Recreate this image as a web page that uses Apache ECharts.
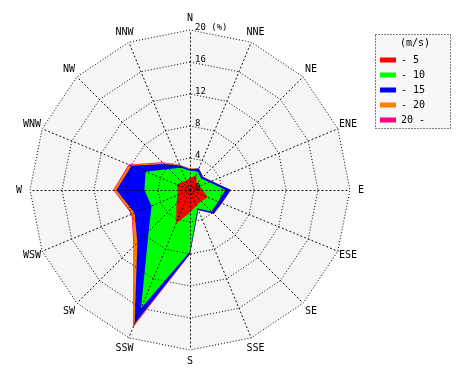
<!DOCTYPE html>
<html><head><meta charset="utf-8">
<script src="https://cdn.jsdelivr.net/npm/echarts@6/dist/echarts.min.js"></script>
<style>html,body{margin:0;padding:0;background:#fff}#c{width:470px;height:380px}</style>
</head><body><div id="c"></div>
<script>
// compass order, clockwise from north
const directions = ['N','NNE','NE','ENE','E','ESE','SE','SSE','S','SSW','SW','WSW','W','WNW','NW','NNW'];
const speedClasses = ['- 5','- 10','- 15','- 20','20 -'];
const classColors = ['#ff0000','#00ff00','#0000ff','#ff8000','#ff0080'];
// frequency (%) per direction for each wind-speed class
const freqTo5    = [1.5, 2.0, 1.2, 1.3, 1.6, 2.4, 2.0, 2.1, 2.8, 4.5, 2.4, 1.7, 1.5, 1.8, 1.4, 1.3];
const freqTo10   = [0.9, 0.5, 0.8, 1.3, 2.8, 1.4, 1.8, 0.4, 4.9, 11.5, 4.9, 3.5, 4.2, 4.2, 2.3, 1.7];
const freqTo15   = [0.2, 0.4, 0.3, 0.3, 0.7, 0.5, 0.4, 0.2, 0.3, 2.1, 2.0, 2.3, 3.5, 1.9, 0.9, 0.3];
const freqTo20   = [0.1, 0, 0, 0, 0, 0, 0, 0, 0, 0.4, 0.6, 0.3, 0.3, 0.3, 0.2, 0.1];
const freqOver20 = [0, 0, 0, 0, 0, 0, 0, 0, 0, 0.1, 0.1, 0.1, 0.1, 0.1, 0.1, 0];
const radialTicks = [0, 4, 8, 12, 16, 20];

const classFreqs = [freqTo5, freqTo10, freqTo15, freqTo20, freqOver20];
// radar lays indicators counter-clockwise: reorder to get clockwise compass
const order = [0].concat(directions.map((d, i) => i).slice(1).reverse());
// stacked (cumulative) values
const cumul = [];
classFreqs.forEach((arr, k) => {
  cumul.push(arr.map((v, i) => v + (k > 0 ? cumul[k - 1][i] : 0)));
});
const rMax = radialTicks[radialTicks.length - 1];
const mono = 'DejaVu Sans Mono';
const dot = [1, 2];
const spokeDot = [1, 3];

const indicatorsBg = order.map(i => ({ name: directions[i], min: 0, max: rMax }));
const indicatorsFg = order.map((i, k) => {
  const o = { name: directions[i], min: 0, max: rMax };
  if (k === 0) o.axisLabel = { show: true };
  return o;
});

const data = [];
for (let k = speedClasses.length - 1; k >= 0; k--) {
  data.push({
    name: speedClasses[k],
    value: order.map(i => +cumul[k][i].toFixed(2)),
    symbol: 'none',
    itemStyle: { color: classColors[k] },
    lineStyle: { opacity: 0, width: 0 },
    areaStyle: { color: classColors[k], opacity: 1 }
  });
}

const chart = echarts.init(document.getElementById('c'), null, { renderer: 'canvas' });
chart.setOption({
  animation: false,
  backgroundColor: '#fff',
  title: {
    text: '(m/s)', left: 400, top: 38, padding: 0,
    textStyle: { fontFamily: mono, fontSize: 10, fontWeight: 'normal', color: '#000' }
  },
  legend: {
    data: speedClasses, orient: 'vertical', left: 380, top: 54, padding: 0,
    icon: 'rect', itemWidth: 16, itemHeight: 5, itemGap: 3,
    textStyle: { fontFamily: mono, fontSize: 10, color: '#000', lineHeight: 12 },
    selectedMode: false
  },
  graphic: [{
    type: 'rect', z: -1,
    shape: { x: 375.5, y: 34.5, width: 75, height: 94 },
    style: { fill: '#f7f7f7', stroke: '#000', lineWidth: 1, lineDash: dot }
  }],
  radar: [{
    center: [190, 190], radius: 160, startAngle: 90, shape: 'polygon', splitNumber: 5, z: 0,
    indicator: indicatorsBg,
    axisName: { show: false },
    axisLine: { show: false }, axisTick: { show: false }, axisLabel: { show: false },
    splitLine: { show: false },
    splitArea: { show: true, areaStyle: { color: ['#f5f5f5'] } }
  }, {
    center: [190, 190], radius: 160, startAngle: 90, shape: 'polygon', splitNumber: 5, z: 5,
    indicator: indicatorsFg,
    nameGap: 11,
    axisName: { color: '#000', fontFamily: mono, fontSize: 10, align: 'center', verticalAlign: 'middle' },
    axisLine: { show: true, lineStyle: { color: '#000', width: 1, type: spokeDot } },
    axisTick: { show: false },
    axisLabel: {
      show: false, margin: -5, align: 'left', verticalAlign: 'bottom',
      fontFamily: mono, fontSize: 9, color: '#000', padding: [0, 0, -2, 0],
      formatter: v => (v === rMax ? v + ' (%)' : String(v))
    },
    splitLine: { show: true, lineStyle: { color: '#000', width: 1, type: dot } },
    splitArea: { show: false }
  }],
  series: [{
    type: 'radar', radarIndex: 0, z: 2,
    data: data
  }]
});
</script></body></html>
